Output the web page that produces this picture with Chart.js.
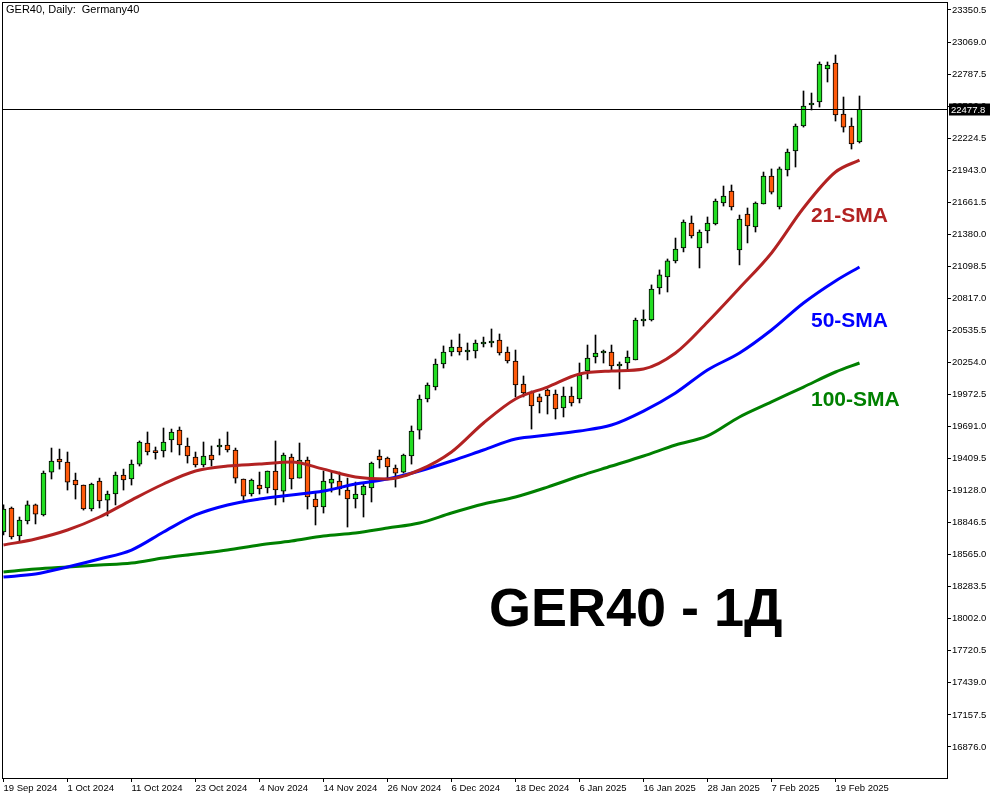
<!DOCTYPE html>
<html>
<head>
<meta charset="utf-8">
<title>GER40 Daily</title>
<script src="https://cdn.jsdelivr.net/npm/chart.js@4.4.1/dist/chart.umd.min.js"></script>
<style>
  html, body { margin: 0; padding: 0; background: #fff; }
</style>
</head>
<body>
<canvas id="ger40" width="1000" height="800"></canvas>
<script>
// daily candles, 19 Sep 2024 -> 24 Feb 2025
const opens = [
  18764, 18975, 18729, 18861, 19002, 18914, 19291, 19405, 19379, 19221,
  19177, 18966, 19212, 19045, 19098, 19265, 19230, 19361, 19546, 19467,
  19476, 19573, 19660, 19520, 19423, 19353, 19441, 19511, 19529, 19485,
  19230, 19098, 19177, 19151, 19300, 19124, 19423, 19238, 19397, 19054,
  18984, 19194, 19212, 19133, 19054, 19089, 19151, 19432, 19414, 19326,
  19291, 19432, 19660, 19933, 20038, 20240, 20346, 20390, 20346, 20355,
  20416, 20425, 20451, 20346, 20267, 20065, 19994, 19951, 20012, 19977,
  19854, 19959, 19933, 20179, 20302, 20337, 20346, 20223, 20249, 20276,
  20618, 20627, 20908, 21005, 21146, 21260, 21479, 21260, 21409, 21470,
  21655, 21760, 21242, 21558, 21444, 21646, 21892, 21620, 21945, 22112,
  22331, 22516, 22542, 22832, 22885, 22437, 22331, 22191
];
const highs = [
  19002, 18984, 18896, 19037, 19010, 19300, 19502, 19493, 19467, 19282,
  19177, 19194, 19238, 19124, 19291, 19317, 19397, 19564, 19643, 19511,
  19678, 19669, 19687, 19590, 19467, 19555, 19520, 19581, 19643, 19502,
  19230, 19230, 19291, 19300, 19564, 19458, 19449, 19546, 19423, 19107,
  19300, 19291, 19291, 19238, 19203, 19186, 19379, 19485, 19423, 19353,
  19449, 19696, 19968, 20074, 20284, 20399, 20451, 20504, 20425, 20451,
  20477, 20548, 20504, 20390, 20363, 20135, 20003, 19977, 20021, 20012,
  20038, 20038, 20249, 20407, 20495, 20363, 20407, 20258, 20355, 20644,
  20715, 20935, 21067, 21163, 21347, 21506, 21541, 21418, 21532, 21690,
  21804, 21813, 21549, 21611, 21664, 21927, 21954, 21971, 22129, 22349,
  22639, 22621, 22894, 22894, 22955, 22586, 22402, 22595
];
const lows = [
  18738, 18703, 18685, 18835, 18835, 18905, 19230, 19317, 19133, 19054,
  18957, 18949, 18975, 18905, 19002, 19133, 19177, 19344, 19441, 19405,
  19423, 19467, 19441, 19370, 19335, 19335, 19344, 19441, 19467, 19194,
  19045, 19080, 19098, 19107, 19002, 19028, 19142, 19238, 18966, 18826,
  18931, 19115, 19089, 18808, 18975, 18896, 19028, 19326, 19238, 19159,
  19282, 19361, 19581, 19907, 20012, 20205, 20311, 20319, 20276, 20293,
  20390, 20390, 20319, 20249, 19951, 19951, 19669, 19810, 19801, 19757,
  19775, 19871, 19898, 20109, 20249, 20249, 20188, 20021, 20197, 20276,
  20574, 20618, 20855, 20873, 21128, 21225, 21347, 21084, 21304, 21462,
  21628, 21593, 21111, 21304, 21400, 21646, 21734, 21602, 21892, 21971,
  22322, 22472, 22498, 22718, 22375, 22278, 22129, 22182
];
const closes = [
  18966, 18720, 18870, 19002, 18922, 19282, 19388, 19379, 19203, 19177,
  18966, 19186, 19037, 19098, 19265, 19221, 19361, 19555, 19467, 19462,
  19555, 19643, 19529, 19432, 19353, 19432, 19397, 19529, 19485, 19238,
  19080, 19221, 19142, 19300, 19133, 19441, 19230, 19397, 19072, 18984,
  19212, 19230, 19142, 19054, 19098, 19168, 19370, 19397, 19335, 19282,
  19441, 19652, 19933, 20056, 20240, 20346, 20390, 20346, 20350, 20425,
  20420, 20430, 20337, 20267, 20056, 19986, 19871, 19907, 19959, 19845,
  19959, 19898, 20144, 20293, 20337, 20341, 20223, 20228, 20302, 20627,
  20636, 20899, 21023, 21146, 21251, 21488, 21365, 21400, 21479, 21672,
  21716, 21620, 21514, 21453, 21655, 21892, 21751, 21954, 22103, 22331,
  22507, 22520, 22876, 22867, 22428, 22322, 22173, 22477.8
];

// moving averages, read every 4th bar
const smaIdx = [0, 4, 8, 12, 16, 20, 24, 28, 32, 36, 40, 44, 48, 52, 56, 60, 64, 68, 72, 76, 80, 84, 88, 92, 96, 100, 104, 107];
const sma21 = [18650, 18703, 18782, 18896, 19045, 19186, 19300, 19344, 19361, 19379, 19317, 19247, 19230, 19309,
               19467, 19722, 19933, 20038, 20152, 20179, 20197, 20337, 20609, 20908, 21216, 21611, 21927, 22032];
const sma50 = [18369, 18395, 18457, 18527, 18606, 18764, 18914, 19002, 19054, 19089, 19124, 19186, 19230, 19300,
               19388, 19485, 19581, 19616, 19652, 19704, 19827, 19986, 20188, 20337, 20539, 20776, 20970, 21093];
const sma100 = [18413, 18439, 18457, 18474, 18492, 18536, 18571, 18606, 18650, 18685, 18729, 18755, 18799, 18843,
                18931, 19010, 19072, 19159, 19256, 19344, 19432, 19529, 19608, 19775, 19907, 20038, 20170, 20249];

const xLabels = ['19 Sep 2024', '1 Oct 2024', '11 Oct 2024', '23 Oct 2024', '4 Nov 2024', '14 Nov 2024', '26 Nov 2024',
                 '6 Dec 2024', '18 Dec 2024', '6 Jan 2025', '16 Jan 2025', '28 Jan 2025', '7 Feb 2025', '19 Feb 2025'];
const barsPerLabel = 8;
const yTicks = [16876.0, 17157.5, 17439.0, 17720.5, 18002.0, 18283.5, 18565.0, 18846.5, 19128.0, 19409.5, 19691.0, 19972.5,
                20254.0, 20535.5, 20817.0, 21098.5, 21380.0, 21661.5, 21943.0, 22224.5, 22506.0, 22787.5, 23069.0, 23350.5];
const lastPrice = 22477.8;

const UP = '#22dd22';
const DOWN = '#ff5a0a';
const tickFont = { family: 'Liberation Sans', size: 9.5 };

const idx = opens.map((_, i) => i);
const smaLine = (vals, color, label) => ({
    type: 'line',
    label: label,
    data: smaIdx.map((x, k) => ({ x: x, y: vals[k] })),
    borderColor: color,
    borderWidth: 3,
    pointRadius: 0,
    cubicInterpolationMode: 'monotone',
    clip: 0,
    order: 0
});

// text, frame and price marker drawn on top of the chart
const overlay = {
    id: 'overlay',
    afterDraw(chart) {
        const { ctx, chartArea: a, scales: { y } } = chart;
        ctx.save();

        // current price line
        const py = Math.round(y.getPixelForValue(lastPrice)) + 0.5;
        ctx.strokeStyle = '#000';
        ctx.lineWidth = 1;
        ctx.beginPath();
        ctx.moveTo(a.left, py);
        ctx.lineTo(a.right, py);
        ctx.stroke();

        // frame
        ctx.strokeRect(a.left - 0.5, a.top - 0.5, a.right - a.left + 1, a.bottom - a.top + 1);

        // price box on the axis
        ctx.fillStyle = '#000';
        ctx.fillRect(a.right + 2, py - 6, 41, 12);
        ctx.fillStyle = '#fff';
        ctx.font = '9.5px "Liberation Sans"';
        ctx.textBaseline = 'middle';
        ctx.textAlign = 'left';
        ctx.fillText(lastPrice.toFixed(1), a.right + 4, py + 0.5);

        // header
        ctx.fillStyle = '#000';
        ctx.font = '11px "Liberation Sans"';
        ctx.fillText('GER40, Daily:  Germany40', 6, 10);

        // SMA labels
        ctx.font = 'bold 21px "Liberation Sans"';
        ctx.fillStyle = '#b22222';
        ctx.fillText('21-SMA', 811, 216);
        ctx.fillStyle = '#0000ff';
        ctx.fillText('50-SMA', 811, 321);
        ctx.fillStyle = '#008000';
        ctx.fillText('100-SMA', 811, 400);

        // big caption
        ctx.fillStyle = '#000';
        ctx.font = 'bold 54px "Liberation Sans"';
        ctx.textBaseline = 'alphabetic';
        ctx.fillText('GER40 - 1Д', 489, 626);

        ctx.restore();
    }
};

new Chart(document.getElementById('ger40'), {
    type: 'bar',
    data: {
        datasets: [
            smaLine(sma21, '#b22222', '21-SMA'),
            smaLine(sma50, '#0000ff', '50-SMA'),
            smaLine(sma100, '#008000', '100-SMA'),
            {
                label: 'body',
                data: idx.map(i => ({ x: i, y: [opens[i], closes[i]] })),
                backgroundColor: idx.map(i => closes[i] >= opens[i] ? UP : DOWN),
                borderColor: '#000',
                borderWidth: 1,
                borderSkipped: false,
                barThickness: 5,
                minBarLength: 2,
                grouped: false,
                clip: 0,
                order: 1
            },
            {
                label: 'wick',
                data: idx.map(i => ({ x: i, y: [lows[i], highs[i]] })),
                backgroundColor: '#000',
                borderWidth: 0,
                barThickness: 1,
                grouped: false,
                clip: 0,
                order: 2
            }
        ]
    },
    options: {
        responsive: false,
        animation: false,
        layout: { padding: { left: 3, top: 3, right: 0, bottom: 0 } },
        plugins: { legend: { display: false }, tooltip: { enabled: false } },
        scales: {
            x: {
                type: 'linear',
                min: -0.0625,
                max: 117.9375,
                offset: false,
                afterBuildTicks: s => { s.ticks = xLabels.map((_, k) => ({ value: k * barsPerLabel })); },
                afterFit: s => { s.height = 22; s.paddingLeft = 0; s.paddingRight = 0; },
                ticks: {
                    autoSkip: false,
                    maxRotation: 0,
                    align: 'start',
                    padding: 1,
                    color: '#000',
                    font: tickFont,
                    callback: v => xLabels[v / barsPerLabel]
                },
                grid: { drawOnChartArea: false, tickLength: 4, color: '#000', offset: false },
                border: { display: false }
            },
            y: {
                position: 'right',
                min: 16603,
                max: 23412,
                afterBuildTicks: s => { s.ticks = yTicks.map(v => ({ value: v })); },
                afterFit: s => { s.width = 53; s.paddingTop = 0; s.paddingBottom = 0; },
                ticks: {
                    padding: 1,
                    color: '#000',
                    font: tickFont,
                    callback: v => v.toFixed(1)
                },
                grid: { drawOnChartArea: false, tickLength: 4, color: '#000' },
                border: { display: false }
            }
        }
    },
    plugins: [overlay]
});
</script>
</body>
</html>
